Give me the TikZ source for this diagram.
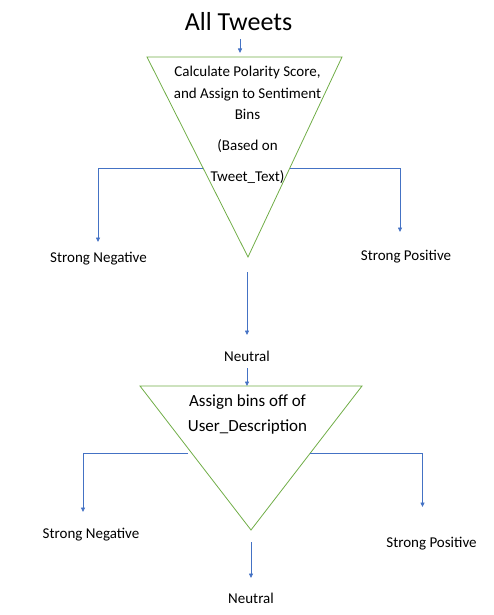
\documentclass[tikz,border=0pt]{standalone}
\usepackage{fontspec}
\setmainfont{Carlito}
\usetikzlibrary{arrows.meta,calc}
\definecolor{arrowblue}{HTML}{4472C4}
\definecolor{trigreen}{HTML}{70AD47}
\begin{document}
\begin{tikzpicture}[x=1pt,y=-1pt,
  conn/.style={draw=arrowblue,line width=0.8pt},
  arr/.style={conn,-{Triangle[length=4.5pt,width=4pt]}},
  tri/.style={draw=trigreen,line width=0.8pt},
  lbl/.style={inner sep=0pt,font=\fontsize{15}{18}\selectfont}]
\useasboundingbox (0,0) rectangle (494,615);
% title
\node[inner sep=0pt,font=\fontsize{26}{30}\selectfont] (all) at (238.5,22) {All Tweets};
% triangle 1
\coordinate (t1l) at (147,57);
\coordinate (t1r) at (342,57);
\coordinate (t1b) at (248,257);
\draw[tri] (t1l) -- (t1r) -- (t1b) -- cycle;
\node[lbl,align=center,font=\fontsize{15}{21.5}\selectfont] (t1txt) at (247.5,93)
  {Calculate Polarity Score,\\and Assign to Sentiment\\Bins};
\node[lbl,align=center,font=\fontsize{15}{31}\selectfont] (t1sub) at (247.5,161.5)
  {(Based on\\Tweet\_Text)};
\coordinate (a1s) at (240,39);
\coordinate (a1e) at (240,53);
\draw[arr] (a1s) -- (a1e);
% branches of triangle 1
\coordinate (t1le) at ($(t1l)!0.555!(t1b)$);
\coordinate (t1re) at ($(t1r)!0.555!(t1b)$);
\coordinate (sn1t) at (98,242);
\coordinate (sp1t) at (400,232);
\node[lbl] (sn1) at (98.5,259) {Strong Negative};
\node[lbl] (sp1) at (406,257) {Strong Positive};
\draw[arr] (t1le) -| (sn1t);
\draw[arr] (t1re) -| (sp1t);
\coordinate (n1s) at (247,272);
\coordinate (n1t) at (247,335);
\node[lbl] (n1) at (247,356) {Neutral};
\draw[arr] (n1s) -- (n1t);
% triangle 2
\coordinate (t2l) at (140,386);
\coordinate (t2r) at (362,386);
\coordinate (t2b) at (251,530);
\draw[tri] (t2l) -- (t2r) -- (t2b) -- cycle;
\coordinate (a2s) at (247,368);
\coordinate (a2e) at (247,386);
\draw[arr] (a2s) -- (a2e);
\node[lbl,align=center,font=\fontsize{17}{25}\selectfont] (t2txt) at (247.5,414.5)
  {Assign bins off of\\User\_Description};
\coordinate (t2le) at (188,453);
\coordinate (t2re) at ($(t2r)!0.465!(t2b)$);
\coordinate (sn2t) at (83,512);
\coordinate (sp2t) at (422.5,507);
\node[lbl] (sn2) at (91,535) {Strong Negative};
\node[lbl] (sp2) at (431.5,544) {Strong Positive};
\draw[arr] (t2le) -| (sn2t);
\draw[arr] (t2re) -| (sp2t);
\coordinate (n2s) at (251,542);
\coordinate (n2t) at (251,578);
\node[lbl] (n2) at (251,598) {Neutral};
\draw[arr] (n2s) -- (n2t);
\end{tikzpicture}
\end{document}
